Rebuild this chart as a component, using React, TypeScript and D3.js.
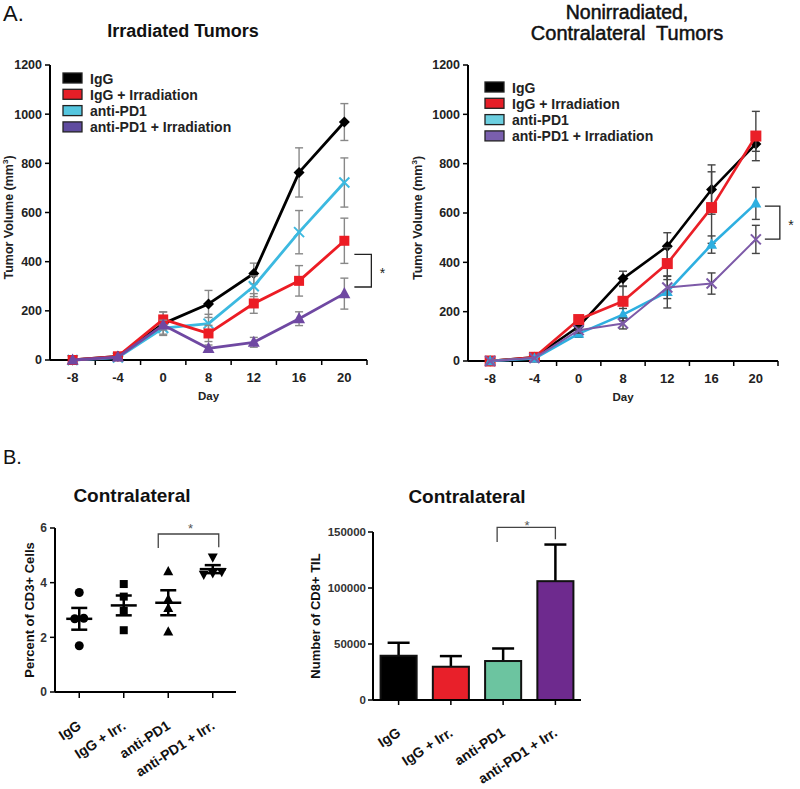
import React from "react";
import * as d3 from "d3";

// ---------- Data ----------
const days = ["-8", "-4", "0", "8", "12", "16", "20"];
const groupNames = ["IgG", "IgG + Irradiation", "anti-PD1", "anti-PD1 + Irradiation"];
const yTicksA = [0, 200, 400, 600, 800, 1000, 1200];

// Irradiated tumors
const irrIgG = [0, 15, 148, 228, 352, 763, 968];
const irrIgGErr = [0, 4, 48, 55, 42, 100, 75];
const irrIgGIrr = [0, 15, 165, 108, 230, 322, 485];
const irrIgGIrrErr = [0, 4, 30, 33, 40, 62, 92];
const irrPD1 = [0, 10, 130, 148, 300, 520, 722];
const irrPD1Err = [0, 4, 25, 38, 42, 88, 100];
const irrPD1Irr = [0, 12, 142, 47, 72, 168, 270];
const irrPD1IrrErr = [0, 4, 20, 14, 20, 28, 63];

// Nonirradiated, contralateral tumors
const nonIgG = [0, 15, 140, 334, 465, 695, 880];
const nonIgGErr = [0, 4, 18, 30, 55, 100, 30];
const nonIgGIrr = [0, 15, 168, 242, 395, 622, 912];
const nonIgGIrrErr = [0, 4, 12, 60, 65, 145, 100];
const nonPD1 = [0, 10, 111, 188, 280, 472, 639];
const nonPD1Err = [0, 4, 15, 25, 65, 35, 65];
const nonPD1Irr = [0, 12, 125, 152, 298, 314, 493];
const nonPD1IrrErr = [0, 4, 12, 22, 45, 43, 57];

// B: CD3+ percent (individual mice)
const groupsB = ["IgG", "IgG + Irr.", "anti-PD1", "anti-PD1 + Irr."];
const cd3IgG = [3.64, 2.68, 2.7, 1.69];
const cd3IgGIrr = [3.95, 3.49, 2.97, 2.26];
const cd3PD1 = [4.41, 3.39, 3.06, 2.2];
const cd3PD1Irr = [4.93, 4.4, 4.35, 4.3];
const cd3Ticks = [0, 2, 4, 6];

// B: number of CD8+ TIL
const cd8Mean = [39500, 29700, 34800, 106100];
const cd8Err = [11600, 9500, 11200, 32700];
const cd8Ticks = [0, 50000, 100000, 150000];

const FONT = '"Liberation Sans", Arial, Helvetica, sans-serif';

type MarkerType = "diamond" | "square" | "x" | "triangle" | "circle" | "triangleDown";

function Marker({ type, cx, cy, color, size = 5 }: { type: MarkerType; cx: number; cy: number; color: string; size?: number }) {
  const s = size;
  if (type === "diamond")
    return <polygon points={`${cx},${cy - s} ${cx + s},${cy} ${cx},${cy + s} ${cx - s},${cy}`} fill={color} />;
  if (type === "square") return <rect x={cx - s} y={cy - s} width={2 * s} height={2 * s} fill={color} />;
  if (type === "circle") return <circle cx={cx} cy={cy} r={s} fill={color} />;
  if (type === "triangle")
    return <polygon points={`${cx},${cy - s * 1.1} ${cx + s},${cy + s * 0.75} ${cx - s},${cy + s * 0.75}`} fill={color} />;
  if (type === "triangleDown")
    return <polygon points={`${cx},${cy + s * 1.1} ${cx + s},${cy - s * 0.75} ${cx - s},${cy - s * 0.75}`} fill={color} />;
  return (
    <g stroke={color} strokeWidth={2}>
      <line x1={cx - s} y1={cy - s} x2={cx + s} y2={cy + s} />
      <line x1={cx - s} y1={cy + s} x2={cx + s} y2={cy - s} />
    </g>
  );
}

type Series = { name: string; color: string; swatch: string; values: number[]; errs: number[]; marker: MarkerType; size: number; width: number };

function LineChart(props: {
  left: number; right: number; top: number; bottom: number;
  series: Series[]; order: number[]; legendX: number; legendY: number;
  errColor: string; bracketHi: number; bracketLo: number; bx1: number; bx2: number; starDx: number;
  labelX: number;
}) {
  const { left, right, top, bottom, series } = props;
  const x = d3.scaleBand<string>().domain(days).range([left, right]);
  const y = d3.scaleLinear().domain([0, 1200]).range([bottom, top]);
  const bw = x.bandwidth();
  const cx = (d: string) => (x(d) as number) + bw / 2;
  const line = d3.line<number>().x((_, i) => cx(days[i])).y((v) => y(v));
  const lastX = cx(days[days.length - 1]);
  return (
    <g fontFamily={FONT}>
      {/* axes */}
      <line x1={left} x2={left} y1={y(0)} y2={y(1200)} stroke="#000" strokeWidth={2} />
      <line x1={left} x2={right} y1={y(0)} y2={y(0)} stroke="#000" strokeWidth={2} />
      {yTicksA.map((t) => (
        <g key={t}>
          <line x1={left - 5} x2={left} y1={y(t)} y2={y(t)} stroke="#000" strokeWidth={1.5} />
          <text x={left - 8} y={y(t)} dy="0.35em" textAnchor="end" fontSize={12.5} fontWeight="bold" fill="#222">{t}</text>
        </g>
      ))}
      {days.map((d) => (
        <g key={d}>
          <line x1={(x(d) as number) + bw} x2={(x(d) as number) + bw} y1={y(0)} y2={y(0) + 5} stroke="#000" strokeWidth={1.5} />
          <text x={cx(d)} y={y(0) + 22} textAnchor="middle" fontSize={13} fontWeight="bold" fill="#222">{d}</text>
        </g>
      ))}
      <text x={(left + right) / 2} y={y(0) + 40} textAnchor="middle" fontSize={11.5} fontWeight="bold" fill="#222">Day</text>
      <text transform={`translate(${props.labelX},${(top + bottom) / 2 + 5}) rotate(-90)`} textAnchor="middle" fontSize={12.5} fontWeight="bold" fill="#222">
        Tumor Volume (mm<tspan dy={-5} fontSize={8}>3</tspan><tspan dy={5}>)</tspan>
      </text>
      {/* legend */}
      {series.map((s, i) => (
        <g key={s.name}>
          <rect x={props.legendX} y={props.legendY + i * 16.3 - 5} width={19} height={10} fill={s.swatch} stroke="#222" strokeWidth={1.3} />
          <text x={props.legendX + 27} y={props.legendY + i * 16.3 + 5.5} fontSize={14} fontWeight="bold" fill="#222">{s.name}</text>
        </g>
      ))}
      {/* series */}
      {props.order.map((k) => {
        const s = series[k];
        return (
          <g key={s.name}>
            {s.values.map((v, i) =>
              s.errs[i] > 6 ? (
                <g key={i} stroke={props.errColor} strokeWidth={1.4}>
                  <line x1={cx(days[i])} x2={cx(days[i])} y1={y(v - s.errs[i])} y2={y(v + s.errs[i])} />
                  <line x1={cx(days[i]) - 4} x2={cx(days[i]) + 4} y1={y(v + s.errs[i])} y2={y(v + s.errs[i])} />
                  <line x1={cx(days[i]) - 4} x2={cx(days[i]) + 4} y1={y(v - s.errs[i])} y2={y(v - s.errs[i])} />
                </g>
              ) : null
            )}
            <path d={line(s.values) as string} fill="none" stroke={s.color} strokeWidth={s.width} strokeLinejoin="round" />
            {s.values.map((v, i) => (
              <Marker key={i} type={s.marker} cx={cx(days[i])} cy={y(v)} color={s.color} size={s.size} />
            ))}
          </g>
        );
      })}
      {/* significance bracket */}
      <g stroke="#222" strokeWidth={1.3} fill="none">
        <path d={`M${lastX + props.bx1},${y(props.bracketHi)} H${lastX + props.bx2} V${y(props.bracketLo)} H${lastX + props.bx1}`} />
      </g>
      <text x={lastX + props.starDx} y={(y(props.bracketHi) + y(props.bracketLo)) / 2 + 7} textAnchor="middle" fontSize={14} fill="#222">*</text>
    </g>
  );
}

function clusterOffsets(vals: number[], thresh = 0.3, gap = 9): number[] {
  const idx = vals.map((_, i) => i).sort((a, b) => vals[a] - vals[b]);
  const off = new Array(vals.length).fill(0);
  let start = 0;
  for (let i = 1; i <= idx.length; i++) {
    if (i === idx.length || vals[idx[i]] - vals[idx[i - 1]] > thresh) {
      const n = i - start;
      for (let j = 0; j < n; j++) off[idx[start + j]] = (j - (n - 1) / 2) * gap;
      start = i;
    }
  }
  return off;
}

function ScatterChart() {
  const left = 55, right = 236, top = 528, bottom = 692;
  const x = d3.scaleBand<string>().domain(groupsB).range([57, 235]);
  const y = d3.scaleLinear().domain([0, 6]).range([bottom, top]);
  const cx = (g: string) => (x(g) as number) + x.bandwidth() / 2;
  const groups = [cd3IgG, cd3IgGIrr, cd3PD1, cd3PD1Irr];
  const markers: MarkerType[] = ["circle", "square", "triangle", "triangleDown"];
  const sizes = [4.5, 4, 5, 5];
  return (
    <g fontFamily={FONT}>
      <text x={132} y={502} textAnchor="middle" fontSize={19} fontWeight="bold" fill="#111">Contralateral</text>
      <line x1={left} x2={left} y1={bottom} y2={top} stroke="#000" strokeWidth={2} />
      <line x1={left} x2={right} y1={bottom} y2={bottom} stroke="#000" strokeWidth={2} />
      {cd3Ticks.map((t) => (
        <g key={t}>
          <line x1={left - 5} x2={left} y1={y(t)} y2={y(t)} stroke="#000" strokeWidth={1.5} />
          <text x={left - 8} y={y(t)} dy="0.35em" textAnchor="end" fontSize={12} fontWeight="bold" fill="#333">{t}</text>
        </g>
      ))}
      <text transform={`translate(${34},${(top + bottom) / 2}) rotate(-90)`} textAnchor="middle" fontSize={13} fontWeight="bold" fill="#111">Percent of CD3+ Cells</text>
      {groupsB.map((g) => (
        <g key={g}>
          <line x1={cx(g)} x2={cx(g)} y1={bottom} y2={bottom + 6} stroke="#000" strokeWidth={1.5} />
          <text transform={`translate(${cx(g) + 3},${bottom + 36}) rotate(-33)`} textAnchor="end" fontSize={14} fontWeight="bold" fill="#111">{g}</text>
        </g>
      ))}
      {groups.map((vals, gi) => {
        const g = groupsB[gi];
        const c = cx(g);
        const mean = d3.mean(vals) as number;
        const sem = (d3.deviation(vals) as number) / Math.sqrt(vals.length);
        const off = clusterOffsets(vals);
        return (
          <g key={g}>
            {vals.map((v, i) => (
              <Marker key={i} type={markers[gi]} cx={c + off[i]} cy={y(v)} color="#000" size={sizes[gi]} />
            ))}
            <g stroke="#000" strokeWidth={2.5}>
              <line x1={c - 13} x2={c + 13} y1={y(mean)} y2={y(mean)} />
              <line x1={c} x2={c} y1={y(mean - sem)} y2={y(mean + sem)} />
              <line x1={c - 8} x2={c + 8} y1={y(mean + sem)} y2={y(mean + sem)} />
              <line x1={c - 8} x2={c + 8} y1={y(mean - sem)} y2={y(mean - sem)} />
            </g>
          </g>
        );
      })}
      <path d={`M${cx(groupsB[2]) - 10},${y(5.27)} V${y(5.78)} H${cx(groupsB[3]) + 6} V${y(5.3)}`} fill="none" stroke="#444" strokeWidth={1.3} />
      <text x={(cx(groupsB[2]) + cx(groupsB[3])) / 2} y={y(5.78) - 1} textAnchor="middle" fontSize={13} fill="#555">*</text>
    </g>
  );
}

function BarChart() {
  const left = 373, top = 532, bottom = 700;
  const x = d3.scaleBand<string>().domain(groupsB).range([373, 581]).paddingInner(0.31).paddingOuter(0.145);
  const y = d3.scaleLinear().domain([0, 150000]).range([bottom, top]);
  const colors = ["#000000", "#e8202a", "#6cc4a0", "#6e2a8e"];
  const bw = x.bandwidth();
  const cx = (g: string) => (x(g) as number) + bw / 2;
  return (
    <g fontFamily={FONT}>
      <text x={467} y={503} textAnchor="middle" fontSize={19} fontWeight="bold" fill="#111">Contralateral</text>
      {groupsB.map((g, i) => (
        <g key={g}>
          <g stroke="#000" strokeWidth={2.5}>
            <line x1={cx(g)} x2={cx(g)} y1={y(cd8Mean[i])} y2={y(cd8Mean[i] + cd8Err[i])} />
            <line x1={cx(g) - 11} x2={cx(g) + 11} y1={y(cd8Mean[i] + cd8Err[i])} y2={y(cd8Mean[i] + cd8Err[i])} />
          </g>
          <rect x={x(g)} y={y(cd8Mean[i])} width={bw} height={bottom - y(cd8Mean[i])} fill={colors[i]} stroke="#111" strokeWidth={2} />
          <line x1={cx(g)} x2={cx(g)} y1={bottom} y2={bottom + 5} stroke="#000" strokeWidth={1.5} />
          <text transform={`translate(${cx(g) + 3},${bottom + 35}) rotate(-33)`} textAnchor="end" fontSize={14} fontWeight="bold" fill="#111">{g}</text>
        </g>
      ))}
      <line x1={left} x2={left} y1={bottom} y2={top} stroke="#000" strokeWidth={2} />
      <line x1={left} x2={581} y1={bottom} y2={bottom} stroke="#000" strokeWidth={2} />
      {cd8Ticks.map((t) => (
        <g key={t}>
          <line x1={left - 5} x2={left} y1={y(t)} y2={y(t)} stroke="#000" strokeWidth={1.5} />
          <text x={left - 7} y={y(t)} dy="0.35em" textAnchor="end" fontSize={11.5} fontWeight="bold" fill="#333">{t}</text>
        </g>
      ))}
      <text transform={`translate(${320},${616}) rotate(-90)`} textAnchor="middle" fontSize={13} fontWeight="bold" fill="#111">Number of CD8+ TIL</text>
      <path d={`M${cx(groupsB[2]) - 6},${y(141100)} V${y(154200)} H${cx(groupsB[3])} V${y(143500)}`} fill="none" stroke="#444" strokeWidth={1.3} />
      <text x={527} y={530} textAnchor="middle" fontSize={13} fill="#555">*</text>
    </g>
  );
}

export default function App() {
  const leftSeries: Series[] = [
    { name: groupNames[0], color: "#000000", swatch: "#000000", values: irrIgG, errs: irrIgGErr, marker: "diamond", size: 5.5, width: 2.8 },
    { name: groupNames[1], color: "#ec1c24", swatch: "#e61e27", values: irrIgGIrr, errs: irrIgGIrrErr, marker: "square", size: 5, width: 2.8 },
    { name: groupNames[2], color: "#3cb9e0", swatch: "#55c6df", values: irrPD1, errs: irrPD1Err, marker: "x", size: 5, width: 2.8 },
    { name: groupNames[3], color: "#6f48a2", swatch: "#5f4b9f", values: irrPD1Irr, errs: irrPD1IrrErr, marker: "triangle", size: 6, width: 2.8 },
  ];
  const rightSeries: Series[] = [
    { name: groupNames[0], color: "#000000", swatch: "#000000", values: nonIgG, errs: nonIgGErr, marker: "diamond", size: 5.5, width: 2.6 },
    { name: groupNames[1], color: "#ea1f27", swatch: "#e61e27", values: nonIgGIrr, errs: nonIgGIrrErr, marker: "square", size: 5.5, width: 2.6 },
    { name: groupNames[2], color: "#2eafe0", swatch: "#6ccfe0", values: nonPD1, errs: nonPD1Err, marker: "triangle", size: 5.5, width: 2.6 },
    { name: groupNames[3], color: "#7d5aa8", swatch: "#7a5fae", values: nonPD1Irr, errs: nonPD1IrrErr, marker: "x", size: 5, width: 2 },
  ];
  return (
    <svg width={800} height={789} style={{ position: "absolute", left: 0, top: 0, background: "#fff" }}>
      <rect x={0} y={0} width={800} height={789} fill="#fff" />
      <text x={3} y={21} fontFamily={FONT} fontSize={22} fill="#111">A.</text>
      <text x={183} y={37} textAnchor="middle" fontFamily={FONT} fontSize={18} fontWeight="bold" fill="#111">Irradiated Tumors</text>
      <text x={627} y={19} textAnchor="middle" fontFamily={FONT} fontSize={19.5} fill="#111" stroke="#111" strokeWidth={0.5}>Nonirradiated,</text>
      <text x={627} y={40} textAnchor="middle" fontFamily={FONT} fontSize={20} fill="#111" stroke="#111" strokeWidth={0.5} xmlSpace="preserve">Contralateral  Tumors</text>
      <LineChart left={50} right={367} top={65} bottom={360} series={leftSeries} order={[0, 2, 1, 3]}
        legendX={63} legendY={78} errColor="#888" bracketHi={430} bracketLo={297} bx1={10} bx2={27} starDx={38} labelX={13} />
      <LineChart left={468} right={778} top={65} bottom={361} series={rightSeries} order={[0, 1, 2, 3]}
        legendX={485} legendY={87} errColor="#444" bracketHi={628} bracketLo={494} bx1={9} bx2={24} starDx={35} labelX={422} />
      <text x={3} y={464} fontFamily={FONT} fontSize={20} fill="#111">B.</text>
      <ScatterChart />
      <BarChart />
    </svg>
  );
}
